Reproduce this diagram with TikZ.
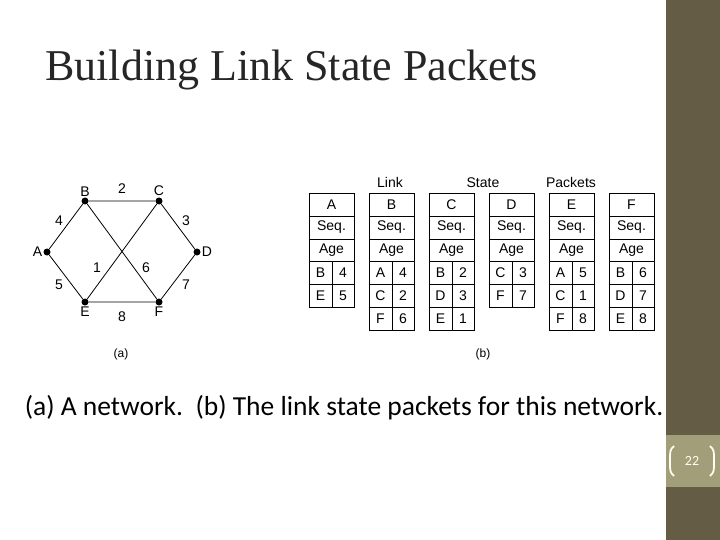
\documentclass[tikz,border=0pt]{standalone}
\usepackage{fontspec}
\setmainfont{Liberation Sans}
\newfontfamily\calfont{Carlito}
\newfontfamily\serifont{Liberation Serif}
\begin{document}
\begin{tikzpicture}[x=1pt,y=-1pt,
  dot/.style={circle,fill=black,inner sep=0pt,minimum size=7pt},
  lbl/.style={font=\fontsize{14}{14}\selectfont,inner sep=1pt},
  hdr/.style={font=\fontsize{14}{14}\selectfont,inner sep=0pt,anchor=base},
  cell/.style={draw=black,line width=0.7pt}]
\useasboundingbox (0,0) rectangle (720,540);
\fill[white] (0,0) rectangle (666,540);
\fill[fill={rgb,255:red,101;green,92;blue,69}] (666,0) rectangle (720,540);
\fill[fill={rgb,255:red,162;green,158;blue,122}] (666,435) rectangle (720,487);
\node[font=\serifont\fontsize{44}{44}\selectfont,anchor=west,text=black!85,inner sep=0pt] (title) at (45,70) {Building Link State Packets};
% network
\node[dot] (A) at (47,252) {}; \node[dot] (B) at (85,201) {}; \node[dot] (C) at (159,201) {};
\node[dot] (D) at (197,252) {}; \node[dot] (E) at (85,302) {}; \node[dot] (F) at (159,302) {};
\draw[line width=0.8pt] (A)--(B) (B)--(C) (C)--(D) (D)--(F) (F)--(E) (E)--(A) (B)--(F) (C)--(E);
\node[lbl,left] (la) at (A.west) {A}; \node[lbl,above] (lb) at (B.north) {B};
\node[lbl,above] (lc) at (C.north) {C}; \node[lbl,right] (ld) at (D.east) {D};
\node[lbl,below] (le) at (E.south) {E}; \node[lbl,below] (lf) at (F.south) {F};
\node[lbl] (w2) at (122,189) {2}; \node[lbl] (w4) at (59,221) {4}; \node[lbl] (w3) at (186,221) {3};
\node[lbl] (w5) at (59,285) {5}; \node[lbl] (w7) at (186,285) {7}; \node[lbl] (w1) at (97,268) {1};
\node[lbl] (w6) at (146,268) {6}; \node[lbl] (w8) at (122,317) {8};
\node[lbl,font=\fontsize{12}{12}\selectfont] (cap-a) at (121,354) {(a)};
% tables
\node[hdr] (hL) at (390,188) {Link}; \node[hdr] (hS) at (483,188) {State}; \node[hdr] (hP) at (571,188) {Packets};
\node[lbl,font=\fontsize{12}{12}\selectfont] (cap-b) at (483,354) {(b)};
\foreach \x/\n/\rows in {309/A/{B/4,E/5},369/B/{A/4,C/2,F/6},429/C/{B/2,D/3,E/1},489/D/{C/3,F/7},549/E/{A/5,C/1,F/8},609/F/{B/6,D/7,E/8}}{
  \draw[cell] (\x,193) rectangle ++(45,23);
  \node[lbl] at (\x+22.5,204.5) {\n};
  \draw[cell] (\x,216) rectangle ++(45,23);
  \node[lbl] at (\x+22.5,227.5) {Seq.};
  \draw[cell] (\x,239) rectangle ++(45,22.5);
  \node[lbl] at (\x+22.5,250) {Age};
  \foreach \p/\c [count=\i from 0] in \rows {
    \draw[cell] (\x,261.5+23*\i) rectangle ++(23,23);
    \draw[cell] (\x+23,261.5+23*\i) rectangle ++(22,23);
    \node[lbl] at (\x+11.5,273+23*\i) {\p};
    \node[lbl] at (\x+34,273+23*\i) {\c};
  }
}
\node[font=\calfont\fontsize{27.5}{27.5}\selectfont,text=black] (caption) at (344,408) {(a) A network.\ \ (b) The link state packets for this network.};
% slide number
\node[font=\calfont\fontsize{14}{14}\selectfont,text=white!95!yellow] (num) at (692,461) {22};
\draw[white!95!yellow,line width=1.8pt] (674,446) .. controls (670,450) .. (670,461) .. controls (670,472) .. (674,476);
\draw[white!95!yellow,line width=1.8pt] (710,446) .. controls (714,450) .. (714,461) .. controls (714,472) .. (710,476);
\end{tikzpicture}
\end{document}
